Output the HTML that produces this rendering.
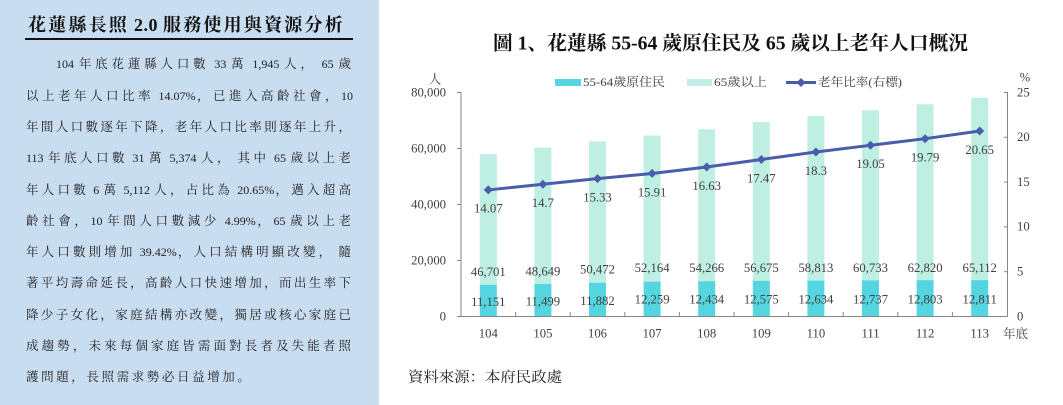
<!DOCTYPE html>
<html>
<head>
<meta charset="utf-8">
<style>
  html,body{margin:0;padding:0;}
  body{width:1063px;height:405px;position:relative;overflow:hidden;background:#fff;
       font-family:"Liberation Serif","Noto Serif CJK SC",serif;}
  #panel{position:absolute;left:0;top:0;width:379px;height:405px;background:#c9ddf1;}
  #ptitle{position:absolute;left:28px;top:12px;height:26px;line-height:26px;font-size:18px;font-weight:bold;
          letter-spacing:2.2px;white-space:nowrap;color:#111;}
  #ptitle .d{letter-spacing:0.5px;}
  #uline{position:absolute;left:25px;top:38px;width:328px;height:2px;background:#111;}
  .ln{position:absolute;left:26px;width:327px;height:20px;line-height:20px;font-size:12.5px;color:#222;
      letter-spacing:2px;text-align:justify;text-align-last:justify;}
  .ln .a{letter-spacing:0;font-size:12px;}
  .last{text-align:left;text-align-last:left;letter-spacing:2.6px;width:auto;white-space:nowrap;}
  svg{position:absolute;left:0;top:0;}
</style>
</head>
<body>
<div id="panel">
  <div id="ptitle">花蓮縣長照<span class="d"> 2.0 </span>服務使用與資源分析</div>
  <div id="uline"></div>
  <div class="ln" style="top:54.3px;text-indent:30px;"><span class="a">104 </span>年底花蓮縣人口數<span class="a"> 33 </span>萬<span class="a"> 1,945 </span>人，<span class="a"> 65 </span>歲</div>
  <div class="ln" style="top:85.6px;">以上老年人口比率<span class="a"> 14.07%</span>，已進入高齡社會，<span class="a">10</span></div>
  <div class="ln" style="top:116.9px;">年間人口數逐年下降，老年人口比率則逐年上升，</div>
  <div class="ln" style="top:148.2px;"><span class="a">113 </span>年底人口數<span class="a"> 31 </span>萬<span class="a"> 5,374 </span>人，<span class="a"> </span>其中<span class="a"> 65 </span>歲以上老</div>
  <div class="ln" style="top:179.5px;">年人口數<span class="a"> 6 </span>萬<span class="a"> 5,112 </span>人，占比為<span class="a"> 20.65%</span>，邁入超高</div>
  <div class="ln" style="top:210.8px;">齡社會，<span class="a">10 </span>年間人口數減少<span class="a"> 4.99%</span>，<span class="a">65 </span>歲以上老</div>
  <div class="ln" style="top:242.1px;">年人口數則增加<span class="a"> 39.42%</span>，人口結構明顯改變，<span class="a"> </span>隨</div>
  <div class="ln" style="top:273.4px;">著平均壽命延長，高齡人口快速增加，而出生率下</div>
  <div class="ln" style="top:304.7px;">降少子女化，家庭結構亦改變，獨居或核心家庭已</div>
  <div class="ln" style="top:336px;">成趨勢，未來每個家庭皆需面對長者及失能者照</div>
  <div class="ln last" style="top:367.3px;">護問題，長照需求勢必日益增加。</div>
</div>

<svg width="1063" height="405" viewBox="0 0 1063 405" xmlns="http://www.w3.org/2000/svg"
     font-family="Liberation Serif, Noto Serif CJK SC, serif">
  <text x="493" y="49.5" font-size="19.5" font-weight="bold" fill="#111" textLength="475" lengthAdjust="spacingAndGlyphs">圖 1、花蓮縣 55-64 歲原住民及 65 歲以上老年人口概況</text>

  <rect x="555" y="79" width="26" height="7" fill="#55d5e0"/>
  <text x="583" y="86.2" font-size="12" fill="#404040" textLength="82" lengthAdjust="spacingAndGlyphs">55-64歲原住民</text>
  <rect x="687" y="79" width="25" height="7" fill="#bfeee3"/>
  <text x="714" y="86.2" font-size="12" fill="#404040" textLength="53" lengthAdjust="spacingAndGlyphs">65歲以上</text>
  <line x1="786" y1="82.5" x2="816" y2="82.5" stroke="#4a5daa" stroke-width="3"/>
  <polygon points="801,78 805.5,82.5 801,87 796.5,82.5" fill="#4a5daa"/>
  <text x="818" y="86.2" font-size="12" fill="#404040" textLength="84" lengthAdjust="spacingAndGlyphs">老年比率(右標)</text>

  <text x="435" y="83.3" font-size="12.5" fill="#404040" text-anchor="middle">人</text>
  <text x="1025" y="81.5" font-size="12.5" fill="#404040" text-anchor="middle">%</text>

  <g fill="#bfeee3">
    <rect x="479.8" y="154.01" width="17" height="130.77"/>
    <rect x="534.4" y="147.59" width="17" height="136.21"/>
    <rect x="589.0" y="141.41" width="17" height="141.32"/>
    <rect x="643.6" y="135.62" width="17" height="146.05"/>
    <rect x="698.2" y="129.24" width="17" height="151.94"/>
    <rect x="752.8" y="122.10" width="17" height="158.69"/>
    <rect x="807.4" y="115.95" width="17" height="164.67"/>
    <rect x="862.0" y="110.28" width="17" height="170.06"/>
    <rect x="916.6" y="104.26" width="17" height="175.89"/>
    <rect x="971.2" y="97.82" width="17" height="182.31"/>
  </g>
  <g fill="#55d5e0">
    <rect x="479.8" y="284.78" width="17" height="31.22"/>
    <rect x="534.4" y="283.80" width="17" height="32.20"/>
    <rect x="589.0" y="282.73" width="17" height="33.27"/>
    <rect x="643.6" y="281.67" width="17" height="34.33"/>
    <rect x="698.2" y="281.18" width="17" height="34.82"/>
    <rect x="752.8" y="280.79" width="17" height="35.21"/>
    <rect x="807.4" y="280.62" width="17" height="35.38"/>
    <rect x="862.0" y="280.34" width="17" height="35.66"/>
    <rect x="916.6" y="280.15" width="17" height="35.85"/>
    <rect x="971.2" y="280.13" width="17" height="35.87"/>
  </g>

  <g stroke="#868686" stroke-width="1" fill="none">
    <line x1="461" y1="92" x2="461" y2="316.5"/>
    <line x1="1007.5" y1="92" x2="1007.5" y2="316.5"/>
    <line x1="461" y1="316.5" x2="1007.5" y2="316.5"/>
    <line x1="457" y1="92.5" x2="461" y2="92.5"/>
    <line x1="457" y1="148.5" x2="461" y2="148.5"/>
    <line x1="457" y1="204.5" x2="461" y2="204.5"/>
    <line x1="457" y1="260.5" x2="461" y2="260.5"/>
    <line x1="457" y1="316.5" x2="461" y2="316.5"/>
    <line x1="1004" y1="92.5" x2="1007.5" y2="92.5"/>
    <line x1="1004" y1="137.3" x2="1007.5" y2="137.3"/>
    <line x1="1004" y1="182.1" x2="1007.5" y2="182.1"/>
    <line x1="1004" y1="226.9" x2="1007.5" y2="226.9"/>
    <line x1="1004" y1="271.7" x2="1007.5" y2="271.7"/>
    <line x1="515.6" y1="312" x2="515.6" y2="316.5"/>
    <line x1="570.2" y1="312" x2="570.2" y2="316.5"/>
    <line x1="624.8" y1="312" x2="624.8" y2="316.5"/>
    <line x1="679.4" y1="312" x2="679.4" y2="316.5"/>
    <line x1="734.0" y1="312" x2="734.0" y2="316.5"/>
    <line x1="788.6" y1="312" x2="788.6" y2="316.5"/>
    <line x1="843.2" y1="312" x2="843.2" y2="316.5"/>
    <line x1="897.8" y1="312" x2="897.8" y2="316.5"/>
    <line x1="952.4" y1="312" x2="952.4" y2="316.5"/>
  </g>

  <g font-size="12.7" fill="#404040" text-anchor="end">
    <text x="446" y="96.6">80,000</text>
    <text x="446" y="152.6">60,000</text>
    <text x="446" y="208.6">40,000</text>
    <text x="446" y="264.6">20,000</text>
    <text x="446" y="320.6">0</text>
  </g>
  <g font-size="12.7" fill="#404040" text-anchor="start">
    <text x="1017" y="96.3">25</text>
    <text x="1017" y="141.1">20</text>
    <text x="1017" y="185.9">15</text>
    <text x="1017" y="230.7">10</text>
    <text x="1017" y="275.5">5</text>
    <text x="1017" y="320.3">0</text>
  </g>
  <g font-size="12.7" fill="#404040" text-anchor="middle">
    <text x="488.3" y="337.5">104</text>
    <text x="542.9" y="337.5">105</text>
    <text x="597.5" y="337.5">106</text>
    <text x="652.1" y="337.5">107</text>
    <text x="706.7" y="337.5">108</text>
    <text x="761.3" y="337.5">109</text>
    <text x="815.9" y="337.5">110</text>
    <text x="870.5" y="337.5">111</text>
    <text x="925.1" y="337.5">112</text>
    <text x="979.7" y="337.5">113</text>
  </g>
  <text x="1003" y="338" font-size="12.5" fill="#404040">年底</text>

  <polyline fill="none" stroke="#4a5daa" stroke-width="3" stroke-linejoin="round"
    points="488.3,189.93 542.9,184.29 597.5,178.64 652.1,173.45 706.7,167.00 761.3,159.47 815.9,152.03 870.5,145.31 925.1,138.68 979.7,130.98"/>
  <g fill="#4a5daa">
    <polygon points="488.3,185.4 492.8,189.93 488.3,194.4 483.8,189.93"/>
    <polygon points="542.9,179.8 547.4,184.29 542.9,188.8 538.4,184.29"/>
    <polygon points="597.5,174.1 602.0,178.64 597.5,183.1 593.0,178.64"/>
    <polygon points="652.1,168.9 656.6,173.45 652.1,177.9 647.6,173.45"/>
    <polygon points="706.7,162.5 711.2,167.00 706.7,171.5 702.2,167.00"/>
    <polygon points="761.3,155.0 765.8,159.47 761.3,164.0 756.8,159.47"/>
    <polygon points="815.9,147.5 820.4,152.03 815.9,156.5 811.4,152.03"/>
    <polygon points="870.5,140.8 875.0,145.31 870.5,149.8 866.0,145.31"/>
    <polygon points="925.1,134.2 929.6,138.68 925.1,143.2 920.6,138.68"/>
    <polygon points="979.7,126.5 984.2,130.98 979.7,135.5 975.2,130.98"/>
  </g>

  <g font-size="12.7" fill="#404040" text-anchor="middle">
    <text x="488.3" y="212.7">14.07</text>
    <text x="542.9" y="207.1">14.7</text>
    <text x="597.5" y="201.4">15.33</text>
    <text x="652.1" y="196.3">15.91</text>
    <text x="706.7" y="189.8">16.63</text>
    <text x="761.3" y="182.3">17.47</text>
    <text x="815.9" y="174.8">18.3</text>
    <text x="870.5" y="168.1">19.05</text>
    <text x="925.1" y="161.5">19.79</text>
    <text x="979.7" y="153.8">20.65</text>
  </g>

  <g font-size="12.7" fill="#404040" text-anchor="middle">
    <text x="488.3" y="276.0">46,701</text>
    <text x="542.9" y="275.3">48,649</text>
    <text x="597.5" y="273.6">50,472</text>
    <text x="652.1" y="272.0">52,164</text>
    <text x="706.7" y="272.0">54,266</text>
    <text x="761.3" y="272.0">56,675</text>
    <text x="815.9" y="272.0">58,813</text>
    <text x="870.5" y="272.0">60,733</text>
    <text x="925.1" y="272.0">62,820</text>
    <text x="979.7" y="272.0">65,112</text>
  </g>
  <g font-size="12.7" fill="#404040" text-anchor="middle">
    <text x="488.3" y="306.0">11,151</text>
    <text x="542.9" y="305.3">11,499</text>
    <text x="597.5" y="305.0">11,882</text>
    <text x="652.1" y="303.6">12,259</text>
    <text x="706.7" y="303.6">12,434</text>
    <text x="761.3" y="303.6">12,575</text>
    <text x="815.9" y="303.6">12,634</text>
    <text x="870.5" y="303.6">12,737</text>
    <text x="925.1" y="303.6">12,803</text>
    <text x="979.7" y="303.6">12,811</text>
  </g>

  <text x="408" y="382" font-size="14.5" fill="#222" textLength="154" lengthAdjust="spacingAndGlyphs">資料來源：本府民政處</text>
</svg>
</body>
</html>
